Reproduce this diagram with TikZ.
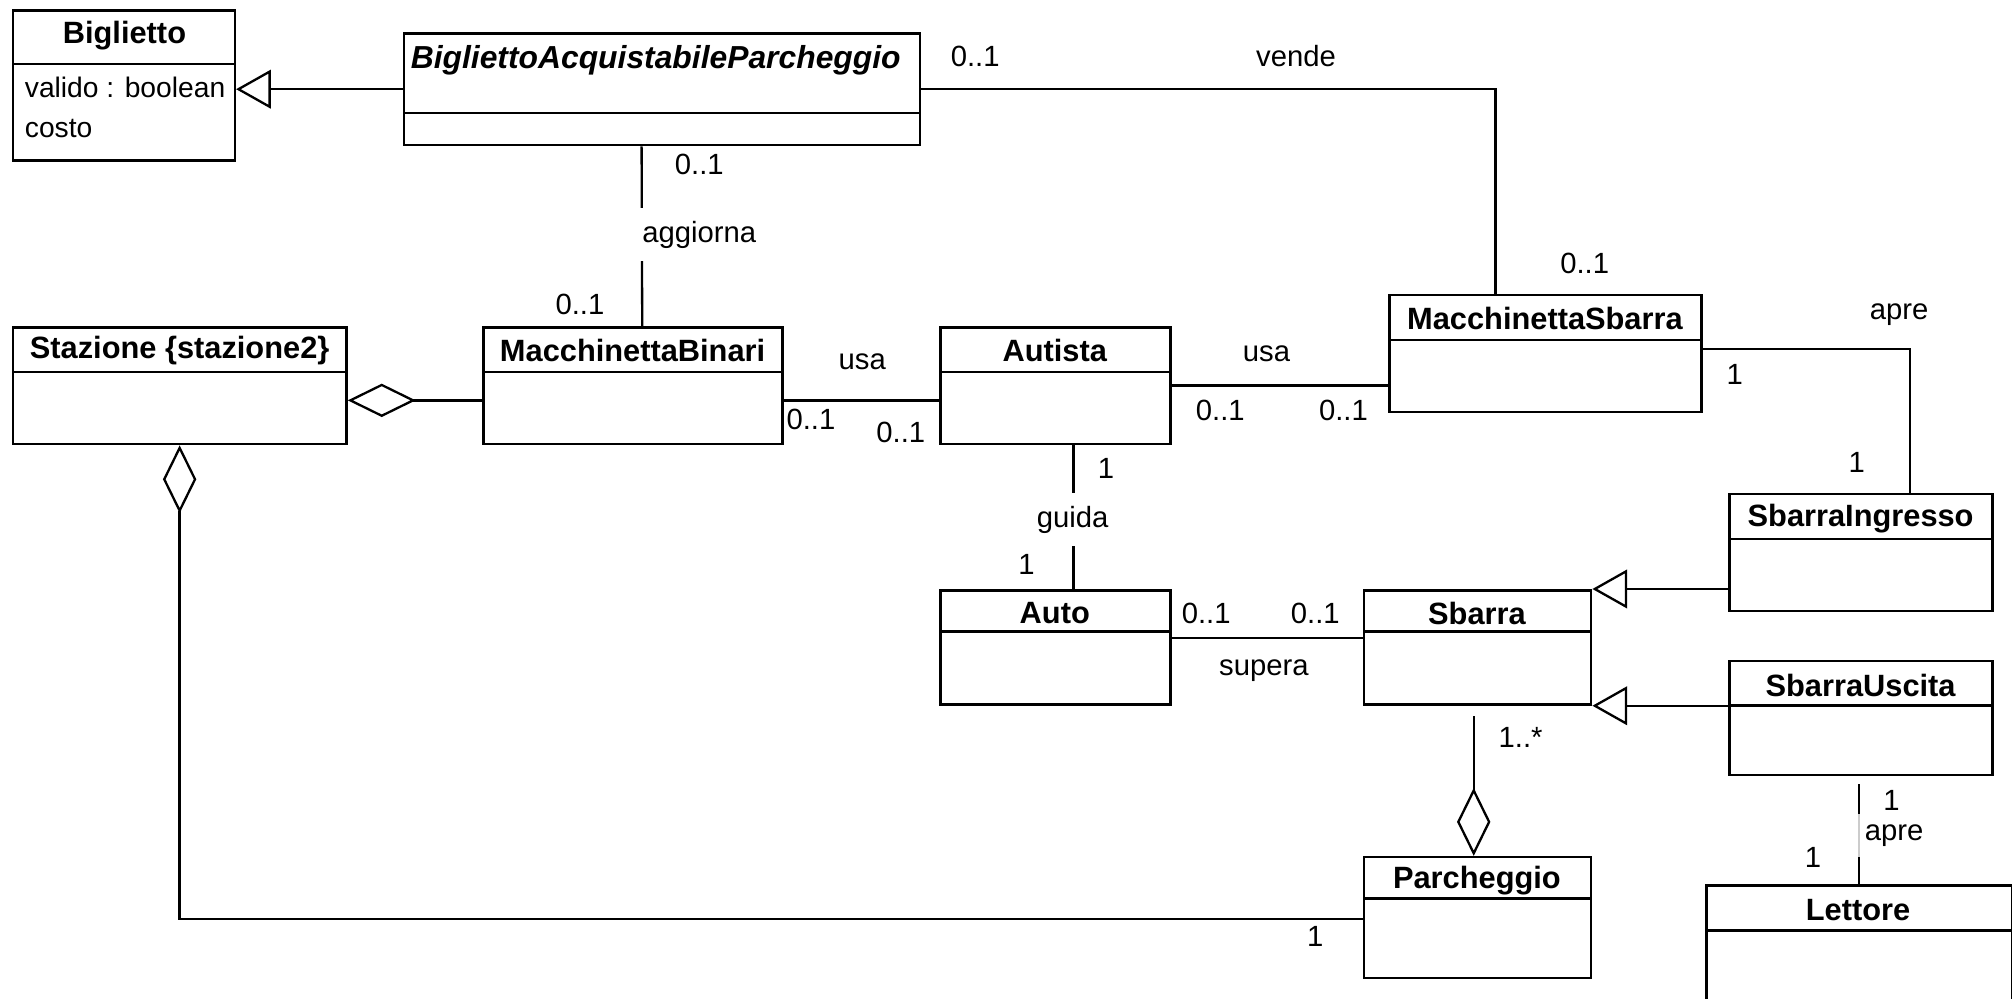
\documentclass[tikz,border=0pt]{standalone}
\usepackage{fontspec}
\setmainfont{Liberation Sans}
\usetikzlibrary{arrows.meta,fit}
\tikzset{
  cls/.style={draw, line width=1pt, inner sep=0pt},
  divline/.style={line width=1pt},
  ttl/.style={font=\fontsize{12}{14}\selectfont\bfseries, inner sep=0pt},
  lbl/.style={inner sep=1pt},
  attr/.style={inner sep=1pt, anchor=west, font=\fontsize{11}{14}\selectfont},
  conn/.style={line width=0.9pt},
  gen/.style={conn, -{Triangle[open, length=13.5pt, width=15pt]}},
  agg/.style={conn, -{Diamond[open, length=26.5pt, width=13pt]}},
  cut/.style={fill=white, inner sep=5pt}
}
\newcommand\umlcls[6]{\node[cls, fit={(#2,#3) (#4,#5)}] (#1) {};\draw[divline] (#2,#6) -- (#4,#6);}
\begin{document}
\begin{tikzpicture}[x=0.5pt,y=-0.5pt]
\fontsize{11.4}{14}\selectfont
\useasboundingbox (0,0) rectangle (1568,778);
\clip (0,0) rectangle (1568,778);
% classes
\umlcls{big}{10}{8}{183}{125}{50}
\node[ttl] (big-t) at (97,28) {Biglietto};
\node[attr] (big-a1) at (17,68) {valido : boolean};
\node[attr] (big-a2) at (17,100) {costo};
\umlcls{bap}{315}{26}{717}{113}{88}
\node[ttl, font=\fontsize{12.4}{14}\selectfont\bfseries\itshape] (bap-t) at (511,47) {BigliettoAcquistabileParcheggio};
\umlcls{staz}{10}{255}{270}{346}{290}
\node[ttl] (staz-t) at (140,273) {Stazione \{stazione2\}};
\umlcls{mb}{377}{255}{610}{346}{290}
\node[ttl] (mb-t) at (493,273) {MacchinettaBinari};
\umlcls{aut}{733}{255}{912}{346}{290}
\node[ttl] (aut-t) at (822,273) {Autista};
\umlcls{ms}{1083}{230}{1326}{321}{265}
\node[ttl] (ms-t) at (1204,248) {MacchinettaSbarra};
\umlcls{si}{1348}{385}{1553}{476}{420}
\node[ttl] (si-t) at (1450,404) {SbarraIngresso};
\umlcls{auto}{733}{460}{912}{549}{492}
\node[ttl] (auto-t) at (822,478) {Auto};
\umlcls{sb}{1063}{460}{1240}{549}{492}
\node[ttl] (sb-t) at (1151,478) {Sbarra};
\umlcls{su}{1348}{515}{1553}{604}{550}
\node[ttl] (su-t) at (1450,534) {SbarraUscita};
\umlcls{par}{1063}{668}{1240}{762}{700}
\node[ttl] (par-t) at (1151,686) {Parcheggio};
\umlcls{let}{1330}{690}{1568}{800}{725}
\node[ttl] (let-t) at (1448,709) {Lettore};
% generalizations
\draw[gen] (bap.west) -- (big.east |- bap.west);
\draw[gen] (si.west |- sb.north east) -- (sb.north east);
\draw[gen] (su.west |- sb.south east) -- (sb.south east);
% aggregations
\draw[agg] ([yshift=-5.75pt]mb.west) -- ([yshift=-5.75pt]staz.east);
\draw[agg] ([yshift=-0.5pt]par.west) -| (staz.south);
\draw[agg] ([xshift=-1.5pt,yshift=-4pt]sb.south) -- ([xshift=-1.5pt]par.north);
% associations
\draw[conn] (bap.east) -| ([xshift=-19.5pt]ms.north);
\draw[conn] ([xshift=-8pt]bap.south) -- ([xshift=3.5pt]mb.north);
\draw[conn] ([yshift=-5.75pt]mb.east) -- ([yshift=-5.75pt]aut.west);
\draw[conn] (aut.east) -- (ms.west |- aut.east);
\draw[conn] ([yshift=1.75pt]ms.east) -| ([xshift=19pt]si.north);
\draw[conn] ([xshift=7pt]aut.south) -- ([xshift=7pt]auto.north);
\draw[conn] ([yshift=3.75pt]auto.east) -- ([yshift=3.75pt]sb.west);
\draw[conn] ([xshift=-1pt,yshift=-3pt]su.south) -- ([xshift=-1pt]su.south |- let.north);
% labels
\node[fill=white, fill opacity=0.8, text opacity=1, inner sep=0pt, minimum height=17pt, text width=29pt, align=right] (l24) at (1470,651) {apre};
\node[lbl] (l1) at (760,44) {0..1};
\node[lbl] (l2) at (1010,44) {vende};
\node[lbl] (l3) at (545,128) {0..1};
\node[cut] (l4) at (545,183) {aggiorna};
\node[lbl] (l5) at (452,237) {0..1};
\node[lbl] (l6) at (672,282) {usa};
\node[lbl] (l7) at (632,327) {0..1};
\node[lbl] (l8) at (702,337) {0..1};
\node[lbl] (l9) at (987,276) {usa};
\node[lbl] (l10) at (951,320) {0..1};
\node[lbl] (l11) at (1047,320) {0..1};
\node[lbl] (l12) at (1235,205) {0..1};
\node[lbl] (l13) at (1480,245) {apre};
\node[lbl] (l14) at (1352,292) {1};
\node[lbl] (l15) at (1447,360) {1};
\node[lbl] (l16) at (862,365) {1};
\node[cut] (l17) at (836,405) {guida};
\node[lbl] (l18) at (800,440) {1};
\node[lbl] (l19) at (940,478) {0..1};
\node[lbl] (l20) at (1025,478) {0..1};
\node[lbl] (l21) at (985,523) {supera};
\node[lbl] (l22) at (1185,575) {1..*};
\node[lbl] (l23) at (1474,624) {1};
\node[lbl] (l25) at (1413,668) {1};
\node[lbl] (l26) at (1025,730) {1};
\end{tikzpicture}
\end{document}
